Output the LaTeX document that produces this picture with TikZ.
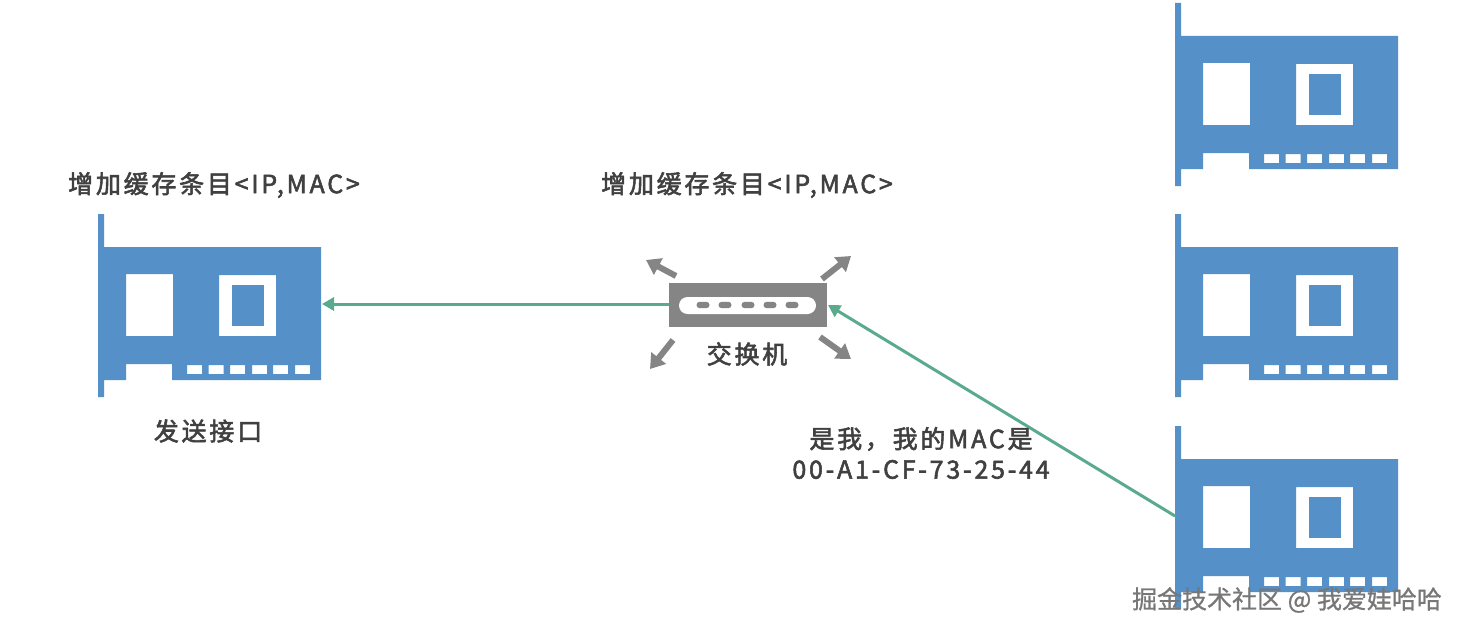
\documentclass[tikz,border=0pt]{standalone}
\usepackage{fontspec}
\setmainfont{Noto Sans CJK SC}
\newfontfamily\labelfont{Noto Sans CJK SC}[FakeBold=2.2,LetterSpace=11]
\newfontfamily\markfont{Noto Sans CJK SC}[FakeBold=0.8]
\usetikzlibrary{arrows.meta}
\definecolor{cardblue}{HTML}{5590C8}
\definecolor{linkgreen}{HTML}{5AAB8E}
\definecolor{switchgray}{HTML}{858585}
\definecolor{labelgray}{HTML}{404040}
\definecolor{markgray}{HTML}{777777}
\tikzset{
  x=1pt,y=-1pt,
  link/.style={draw=linkgreen,line width=3pt,-{Triangle[length=12pt,width=13pt]}},
  burst/.style={draw=switchgray,line width=6pt,-{Triangle[length=14pt,width=18pt]}},
  lbl/.style={inner sep=0pt,text=labelgray,font=\labelfont\fontsize{25}{30.5}\selectfont,align=center},
  swbox/.style={fill=switchgray,inner sep=0pt,minimum width=158pt,minimum height=44pt},
  card/.pic={
    \fill[cardblue,even odd rule]
      (0,0) -- (6,0) -- (6,33) -- (223,33) -- (223,166) -- (74,166) -- (74,150) -- (28,150) -- (28,166) -- (6,166) -- (6,183) -- (0,183) -- cycle
      (28,60) rectangle (75,122)
      (121,61) rectangle (178,122)
      (89,151) rectangle (104,160)
      (110.5,151) rectangle (125.5,160)
      (132,151) rectangle (147,160)
      (154,151) rectangle (169,160)
      (175,151) rectangle (190,160)
      (197,151) rectangle (212,160);
    \fill[cardblue] (134,71) rectangle (166,112);
    \coordinate (-west) at (0,90);
    \coordinate (-east) at (224,90);
  }
}
\begin{document}
\begin{tikzpicture}
\useasboundingbox (0,0) rectangle (1462,634);
\fill[white] (0,0) rectangle (1462,634);
\pic (send) at (98,214) {card};
\pic (r1) at (1175,3) {card};
\pic (r2) at (1175,214) {card};
\pic (r3) at (1175,426) {card};
\node[swbox] (sw) at (748,305) {};
\fill[white,rounded corners=8.5pt] (679,297) rectangle (816,314);
\foreach \c in {703,725,748,770,792}
  \fill[switchgray,rounded corners=3.2pt] (\c-6.5,301.8) rectangle (\c+6.5,308.2);
\coordinate (swtl) at (676,276); \coordinate (tl) at (646,260);
\coordinate (swtr) at (822,279); \coordinate (tr) at (851,256);
\coordinate (swbl) at (673,340); \coordinate (bl) at (650,369);
\coordinate (swbr) at (820,337); \coordinate (br) at (851,359);
\draw[burst] (swtl) -- (tl);
\draw[burst] (swtr) -- (tr);
\draw[burst] (swbl) -- (bl);
\draw[burst] (swbr) -- (br);
\draw[link] (sw.west |- send-east) -- (send-east);
\coordinate (swport) at (828,305);
\draw[link] (r3-west) -- (swport);
\node[lbl] (l1) at (214,185) {增加缓存条目<IP,MAC>};
\node[lbl] (l2) at (747,185) {增加缓存条目<IP,MAC>};
\node[lbl] (l3) at (747,354) {交换机};
\node[lbl] (l4) at (208,431) {发送接口};
\node[lbl] (l5) at (921,453) {是我，我的MAC是\\00-A1-CF-73-25-44};
\node[inner sep=0pt,text=markgray,font=\markfont\fontsize{25}{30}\selectfont] (wm) at (1287,600) {掘金技术社区 @ 我爱娃哈哈};
\end{tikzpicture}
\end{document}
